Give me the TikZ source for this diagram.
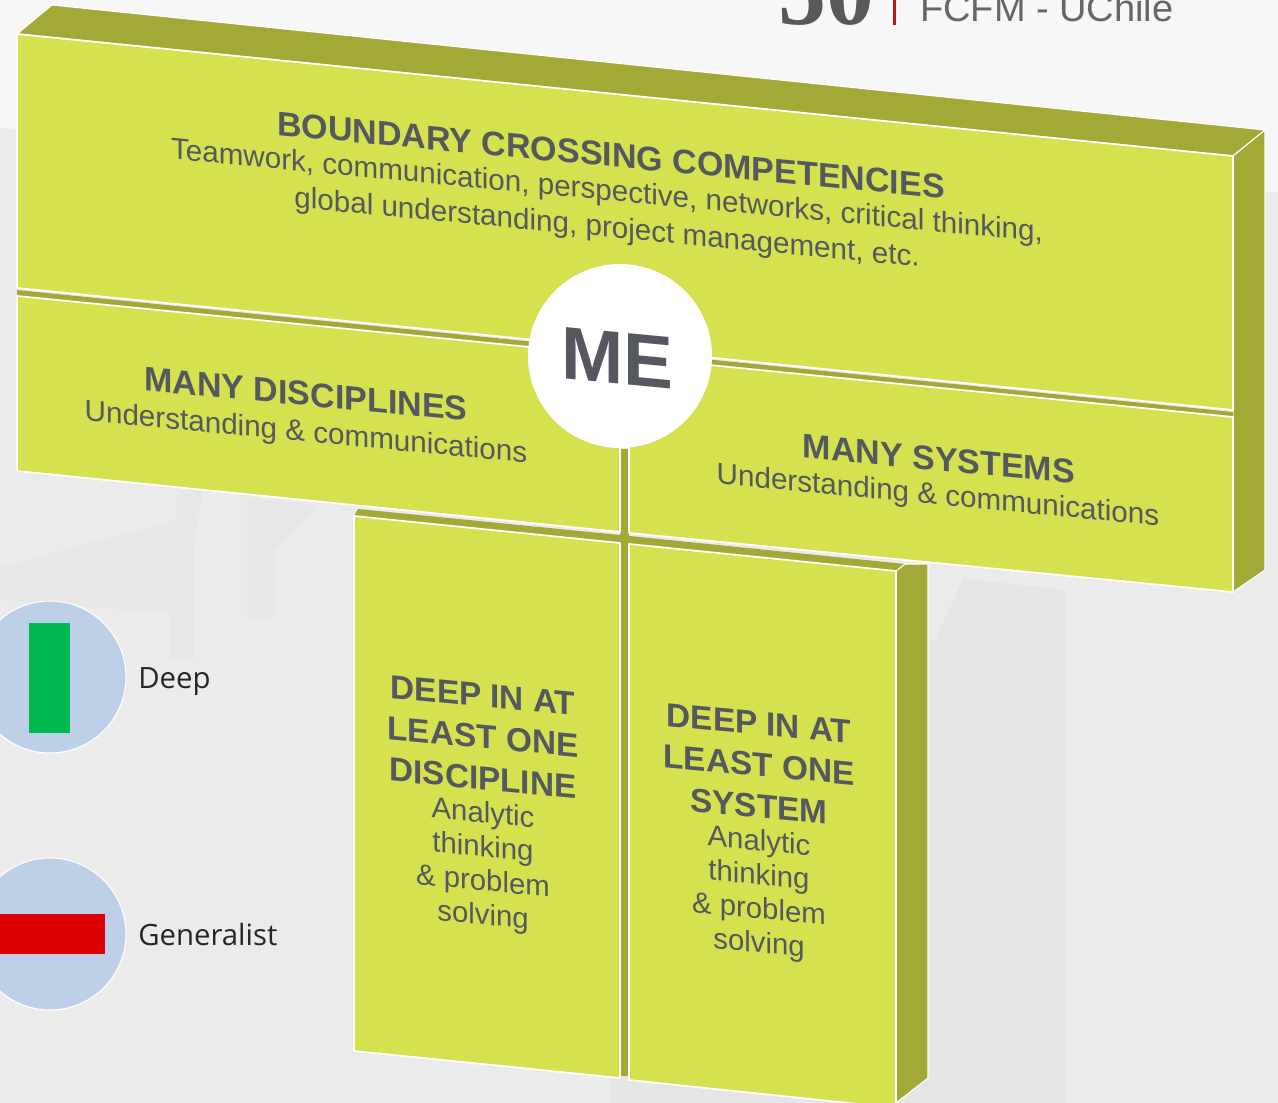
\documentclass[tikz,border=0pt]{standalone}
\usepackage{fontspec}
\setmainfont{Liberation Sans}
\newfontfamily\legendfont{Open Sans}
\newfontfamily\logofont{Liberation Serif}
\definecolor{lime}{HTML}{D5E14F}
\definecolor{olive}{HTML}{A3A937}
\definecolor{ink}{HTML}{55585F}
\definecolor{disc}{HTML}{BED0E8}
\definecolor{bglight}{HTML}{F7F7F7}
\definecolor{bgmid}{HTML}{EBEBEB}
\definecolor{bgdark}{HTML}{E5E5E5}
\definecolor{leaf}{HTML}{00B850}
\definecolor{barred}{HTML}{DE0000}
\tikzset{
  face/.style={fill=lime,draw=white,line width=1.3pt,line join=round},
  side/.style={fill=olive,draw=white,line width=0.8pt,line join=round},
  skew/.style={shift={#1},yslant=-0.095,transform shape,inner sep=0pt,text=ink,align=center},
  head/.style={font=\bfseries\fontsize{25.5}{31}\selectfont},
  stackhead/.style={font=\bfseries\fontsize{25}{31}\selectfont},
  sub/.style={font=\fontsize{22.2}{27.5}\selectfont},
  body/.style={font=\fontsize{22}{25.5}\selectfont},
  legend/.style={font=\legendfont\fontsize{22}{24}\selectfont,text=black!85,anchor=base west,inner sep=0pt}
}
\begin{document}
\begin{tikzpicture}[x=0.75pt,y=-0.75pt]
\useasboundingbox (0,0) rectangle (1278,1103);
\clip (0,0) rectangle (1278,1103);
% background
\fill[bgmid] (0,0) rectangle (1278,1103);
\fill[bglight] (0,0) -- (1278,0) -- (1278,192) -- (0,128) -- cycle;
\fill[bgdark] (930,575) -- (1065,590) -- (1065,1103) -- (610,1103) -- (610,1070) -- (930,1070) -- cycle;
\fill[bgmid] (930,575) -- (965,575) -- (935,640) -- (930,640) -- cycle;
\fill[bgdark!70!bgmid] (0,567) -- (177,520) -- (177,490) -- (203,490) -- (193,550) -- (193,660) -- (170,660) -- (170,613) -- (0,600) -- cycle;
\fill[bgdark!70!bgmid] (247,497) -- (320,505) -- (275,550) -- (275,617) -- (247,617) -- cycle;
% logo
\node (logonum) [font=\logofont\bfseries\fontsize{72}{72}\selectfont,text=black!65,anchor=base west,inner sep=0pt] at (778,24) {50};
\fill[fill=red!70!black!90] (893,0) rectangle (896,25);
\node (logotext) [font=\fontsize{28.5}{30}\selectfont,text=black!60,anchor=base west,inner sep=0pt] at (920,21) {FCFM - UChile};
% olive sides
\fill[side] (17,34) -- (52,5) -- (1265,130) -- (1233,156) -- cycle;
\fill[side] (1233,156) -- (1265,130) -- (1265,570) -- (1233,592) -- cycle;
\fill[olive] (17,290) -- (1233,412) -- (1233,418) -- (17,296) -- cycle;
\fill[olive] (620,449) rectangle (629,1076);
\fill[olive] (358,509) -- (620,535) -- (905,564) -- (896,571) -- (354,516) -- cycle;
\filldraw[side] (896,571) -- (905,564) -- (928,564) -- (928,1078) -- (896,1103) -- cycle;
% faces
\draw[face] (17,34) -- (1233,156) -- (1233,410) -- (17,288) -- cycle;
\draw[face] (17,296) -- (620,356) -- (620,532) -- (17,471) -- cycle;
\draw[face] (629,357) -- (1233,417) -- (1233,592) -- (629,533) -- cycle;
\draw[face] (354,516) -- (620,543) -- (620,1078) -- (354,1051) -- cycle;
\draw[face] (629,544) -- (896,571) -- (896,1108) -- (629,1080) -- cycle;
\node (me) [circle,fill=white,minimum size=138pt,inner sep=0pt] at (620,356) {};
\node (metext) [skew={(617,358)},font=\bfseries\fontsize{56}{56}\selectfont] at (0,0) {ME};
% text
\node (bch) [skew={(611,155)},head] at (0,0) {BOUNDARY CROSSING COMPETENCIES};
\node (bcs) [skew={(607,211)},sub] at (0,0) {Teamwork, communication, perspective, networks, critical thinking,\\global understanding, project management, etc.};
\node (mdh) [skew={(306,394)},head] at (0,0) {MANY DISCIPLINES};
\node (mds) [skew={(306,434)},sub] at (0,0) {Understanding \& communications};
\node (msh) [skew={(939,459)},head] at (0,0) {MANY SYSTEMS};
\node (mss) [skew={(938,497)},sub] at (0,0) {Understanding \& communications};
\node (ddh) [skew={(483,737)},stackhead] at (0,0) {DEEP IN AT\\LEAST ONE\\DISCIPLINE};
\node (ddb) [skew={(483,866)},body] at (0,0) {Analytic\\thinking\\\& problem\\solving};
\node (dsh) [skew={(759,765)},stackhead] at (0,0) {DEEP IN AT\\LEAST ONE\\SYSTEM};
\node (dsb) [skew={(759,894)},body] at (0,0) {Analytic\\thinking\\\& problem\\solving};
% legend
\node (c1) [circle,fill=disc,draw=white,line width=0.8pt,minimum size=114pt,inner sep=0pt] at (50,677) {};
\node (c2) [circle,fill=disc,draw=white,line width=0.8pt,minimum size=114pt,inner sep=0pt] at (50,934) {};
\fill[leaf] (29,623) rectangle (70,733);
\fill[barred] (0,914) rectangle (105,954);
\node (deep) [legend] at (138,688) {Deep};
\node (gen) [legend] at (138,945) {Generalist};
\end{tikzpicture}
\end{document}
